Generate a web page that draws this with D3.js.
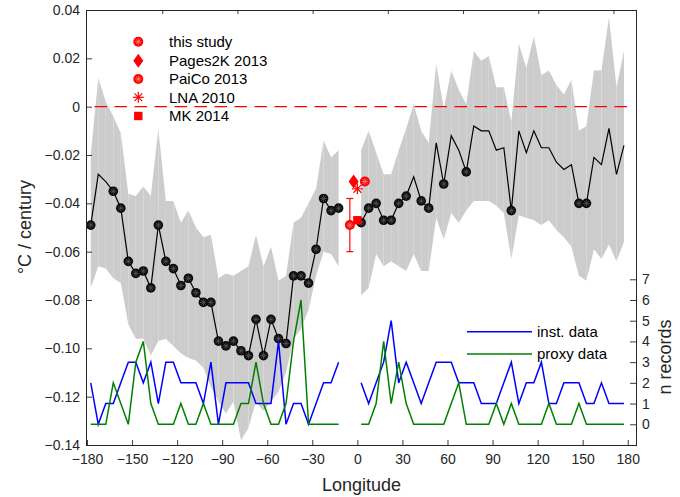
<!DOCTYPE html>
<html><head><meta charset="utf-8">
<script src="https://cdn.jsdelivr.net/npm/d3@7"></script>
<style>
html,body{margin:0;padding:0;background:#fff;}
svg{display:block;font-family:"Liberation Sans",Arial,Helvetica,sans-serif;}
</style></head><body>
<svg id="c" width="680" height="497"></svg>
<script>
// ---------- data ----------
const lonLeft = [-177.5,-172.5,-167.5,-162.5,-157.5,-152.5,-147.5,-142.5,-137.5,-132.5,-127.5,-122.5,-117.5,-112.5,-107.5,-102.5,-97.5,-92.5,-87.5,-82.5,-77.5,-72.5,-67.5,-62.5,-57.5,-52.5,-47.5,-42.5,-37.5,-32.5,-27.5,-22.5,-17.5,-12.5];
const trendLeft = [-0.049,-0.028,-0.031,-0.035,-0.042,-0.064,-0.069,-0.068,-0.075,-0.049,-0.064,-0.067,-0.074,-0.071,-0.077,-0.081,-0.081,-0.097,-0.099,-0.097,-0.101,-0.103,-0.088,-0.103,-0.088,-0.096,-0.098,-0.070,-0.070,-0.073,-0.059,-0.038,-0.043,-0.042];
const upperLeft = [-0.020,0.012,0.002,-0.004,-0.011,-0.036,-0.037,-0.033,-0.037,-0.009,-0.039,-0.039,-0.048,-0.043,-0.050,-0.054,-0.053,-0.071,-0.069,-0.070,-0.068,-0.066,-0.053,-0.066,-0.058,-0.072,-0.070,-0.048,-0.046,-0.040,-0.034,-0.014,-0.021,-0.018];
const lowerLeft = [-0.075,-0.066,-0.067,-0.071,-0.073,-0.090,-0.096,-0.096,-0.103,-0.097,-0.096,-0.099,-0.102,-0.104,-0.105,-0.108,-0.116,-0.122,-0.127,-0.122,-0.138,-0.133,-0.122,-0.126,-0.122,-0.118,-0.110,-0.096,-0.092,-0.084,-0.070,-0.060,-0.061,-0.066];
const sigLeft = [1,0,0,1,1,1,1,1,1,1,1,1,1,1,1,1,1,1,1,1,1,1,1,1,1,1,1,1,1,1,1,1,1,1];
const instLeft = [2,0,1,1,2,3,3,2,3,1,3,3,2,2,2,1,3,0,2,2,2,2,1,1,1,4,0,1,1,0,1,2,2,3];
const proxyLeft = [0,0,0,2,1,0,3,4,1,0,0,0,1,0,0,1,0,0,0,0,1,1,3,1,0,0,1,4,6,0,0,0,0,0];

const lonRight = [2.5,7.5,12.5,17.5,22.5,27.5,32.5,37.5,42.5,47.5,52.5,57.5,62.5,67.5,72.5,77.5,82.5,87.5,92.5,97.5,102.5,107.5,112.5,117.5,122.5,127.5,132.5,137.5,142.5,147.5,152.5,157.5,162.5,167.5,172.5,177.5];
const trendRight = [-0.048,-0.042,-0.040,-0.047,-0.047,-0.040,-0.037,-0.029,-0.039,-0.042,-0.015,-0.032,-0.012,-0.018,-0.027,-0.008,-0.010,-0.010,-0.018,-0.017,-0.043,-0.010,-0.019,-0.010,-0.017,-0.017,-0.023,-0.026,-0.024,-0.040,-0.040,-0.021,-0.024,-0.009,-0.028,-0.016];
const upperRight = [-0.018,-0.010,-0.019,-0.028,-0.028,-0.018,-0.009,0.001,-0.010,-0.015,0.018,-0.001,0.015,0.007,0.001,0.023,0.019,0.021,0.008,0.008,-0.006,0.026,0.016,0.029,0.013,0.015,0.009,0.005,0.011,-0.010,-0.008,0.015,0.015,0.037,0.008,0.023];
const lowerRight = [-0.078,-0.075,-0.061,-0.066,-0.064,-0.066,-0.068,-0.061,-0.068,-0.068,-0.046,-0.055,-0.044,-0.048,-0.043,-0.039,-0.039,-0.039,-0.041,-0.044,-0.063,-0.045,-0.046,-0.047,-0.049,-0.047,-0.051,-0.054,-0.058,-0.070,-0.072,-0.059,-0.063,-0.057,-0.064,-0.056];
const sigRight = [1,1,1,1,1,1,1,0,1,1,0,1,0,0,1,0,0,0,0,0,1,0,0,0,0,0,0,0,0,1,1,0,0,0,0,0];
const instRight = [2,1,2,3,5,2,3,2,1,2,3,3,3,2,2,2,1,1,1,2,3,1,2,2,3,1,1,2,2,2,1,1,2,1,1,1];
const proxyRight = [0,0,1,4,1,3,1,0,0,0,0,0,1,2,0,0,0,0,1,0,1,0,0,0,0,1,0,0,0,1,0,0,0,0,0,0];

const refNames = ["this study","Pages2K 2013","PaiCo 2013","LNA 2010","MK 2014"];
const refSymbols = ["studyCircle","diamond","circle","asterisk","square"];
const refLon = [-5, -2.5, 5, 0, 0];
const refVal = [-0.049, -0.031, -0.031, -0.034, -0.047];
const refErr = [0.011, 0, 0, 0, 0];

const xTicks = [-180,-150,-120,-90,-60,-30,0,30,60,90,120,150,180];
const yTicks = [-0.14,-0.12,-0.10,-0.08,-0.06,-0.04,-0.02,0,0.02,0.04];
const nTicks = [0,1,2,3,4,5,6,7];
const topTicks = [-150,-100,-50,0,50,100,150];
const countNames = ["inst. data","proxy data"];

// ---------- drawing ----------
const AX = "#262626";
const svg = d3.select("#c");
const x = d3.scaleLinear().domain([-180,185.5]).range([87,636]);
const y = d3.scaleLinear().domain([-0.14,0.04]).range([445,10]);
const yN = d3.scaleLinear().domain([-1,20]).range([445,10]);
const xTop = d3.scaleLinear().domain([-200,165]).range([87,636]);

const segs = [
  {lon:lonLeft, t:trendLeft, up:upperLeft, lo:lowerLeft, sig:sigLeft, inst:instLeft, proxy:proxyLeft},
  {lon:lonRight, t:trendRight, up:upperRight, lo:lowerRight, sig:sigRight, inst:instRight, proxy:proxyRight}
];

// band as quads (gives faint seams)
const gBand = svg.append("g");
segs.forEach(s=>{
  for(let i=0;i<s.lon.length-1;i++){
    const pts=[[x(s.lon[i]),y(s.up[i])],[x(s.lon[i+1]),y(s.up[i+1])],[x(s.lon[i+1]),y(s.lo[i+1])],[x(s.lon[i]),y(s.lo[i])]];
    gBand.append("path").attr("d","M"+pts.join("L")+"Z").attr("fill","#cccccc");
  }
});

// zero line
svg.append("line").attr("x1",x(-175)).attr("x2",x(180)).attr("y1",y(0)).attr("y2",y(0))
  .attr("stroke","#ff0000").attr("stroke-width",1.1).attr("stroke-dasharray","12.5,7.5");

// trend lines
const line = d3.line().x(d=>x(d[0])).y(d=>y(d[1]));
segs.forEach(s=>{
  svg.append("path").attr("d",line(s.lon.map((l,i)=>[l,s.t[i]]))).attr("fill","none")
    .attr("stroke","#000").attr("stroke-width",1.2);
});

function starPattern(g,cx,cy,r,col,w){
  for(let a=0;a<4;a++){
    const ang=a*Math.PI/4;
    g.append("line").attr("x1",cx-r*Math.cos(ang)).attr("y1",cy-r*Math.sin(ang))
      .attr("x2",cx+r*Math.cos(ang)).attr("y2",cy+r*Math.sin(ang))
      .attr("stroke",col).attr("stroke-width",w);
  }
}
const gM = svg.append("g");
segs.forEach(s=>{
  s.lon.forEach((l,i)=>{
    if(!s.sig[i]) return;
    const cx=x(l), cy=y(s.t[i]);
    gM.append("circle").attr("cx",cx).attr("cy",cy).attr("r",4.8).attr("fill","#0a0a0a");
    starPattern(gM,cx,cy,3.4,"#5a5a5a",0.7);
  });
});

// count lines
const lineN = d3.line().x(d=>x(d[0])).y(d=>yN(d[1]));
const cCols = ["#0000ff","#008000"];
segs.forEach(s=>{
  svg.append("path").attr("d",lineN(s.lon.map((l,i)=>[l,s.inst[i]]))).attr("fill","none").attr("stroke",cCols[0]).attr("stroke-width",1.5);
  svg.append("path").attr("d",lineN(s.lon.map((l,i)=>[l,s.proxy[i]]))).attr("fill","none").attr("stroke",cCols[1]).attr("stroke-width",1.5);
});

// reference markers
function drawSym(g,sym,cx,cy){
  const red="#ff0000";
  if(sym==="studyCircle"||sym==="circle"){
    g.append("circle").attr("cx",cx).attr("cy",cy).attr("r",5).attr("fill",red);
    starPattern(g,cx,cy,3.4,"#ff8c8c",0.7);
  } else if(sym==="diamond"){
    g.append("path").attr("d",`M${cx},${cy-7}L${cx+5},${cy}L${cx},${cy+7}L${cx-5},${cy}Z`).attr("fill",red);
  } else if(sym==="square"){
    g.append("rect").attr("x",cx-4.2).attr("y",cy-4.2).attr("width",8.4).attr("height",8.4).attr("fill",red);
  } else if(sym==="asterisk"){
    for(let a=0;a<4;a++){
      const ang=a*Math.PI/4+Math.PI/2;
      g.append("line").attr("x1",cx-5.5*Math.cos(ang)).attr("y1",cy-5.5*Math.sin(ang))
        .attr("x2",cx+5.5*Math.cos(ang)).attr("y2",cy+5.5*Math.sin(ang)).attr("stroke",red).attr("stroke-width",1.2);
    }
  }
}
const gR = svg.append("g");
refNames.forEach((n,i)=>{
  if(refErr[i]>0){
    const cx=x(refLon[i]);
    const y1=y(refVal[i]-refErr[i]), y2=y(refVal[i]+refErr[i]);
    gR.append("line").attr("x1",cx).attr("x2",cx).attr("y1",y1).attr("y2",y2).attr("stroke","#ff0000").attr("stroke-width",1.2);
    [y1,y2].forEach(yy=>gR.append("line").attr("x1",cx-3.5).attr("x2",cx+3.5).attr("y1",yy).attr("y2",yy).attr("stroke","#ff0000").attr("stroke-width",1.2));
  }
});
[1,2,3,4,0].forEach(i=>drawSym(gR,refSymbols[i],x(refLon[i]),y(refVal[i])));

// axes
const fmtY = d=>{const v=Math.round(d*100)/100; return v===0?"0":(v<0?"\u2212":"")+Math.abs(v).toFixed(2);};
const fmtX = d=>(d<0?"\u2212":"")+Math.abs(d);
function styleAxis(g,fs){
  g.select(".domain").remove();
  g.selectAll(".tick line").attr("stroke",AX).attr("stroke-width",0.9);
  g.selectAll(".tick text").attr("fill",AX).style("font-size",fs+"px").style("font-family",'"Liberation Sans",Arial,sans-serif');
}
const gx = svg.append("g").attr("transform","translate(0,445)")
  .call(d3.axisBottom(x).tickValues(xTicks).tickFormat(fmtX).tickSizeInner(-5).tickSizeOuter(0).tickPadding(9));
styleAxis(gx,14);
const gy = svg.append("g").attr("transform","translate(87,0)")
  .call(d3.axisLeft(y).tickValues(yTicks).tickFormat(fmtY).tickSizeInner(-5).tickSizeOuter(0).tickPadding(7));
styleAxis(gy,14);
const gn = svg.append("g").attr("transform","translate(636,0)")
  .call(d3.axisRight(yN).tickValues(nTicks).tickFormat(d3.format("d")).tickSizeInner(-6).tickSizeOuter(0).tickPadding(6));
styleAxis(gn,14);
const gt = svg.append("g").attr("transform","translate(0,10)")
  .call(d3.axisTop(xTop).tickValues(topTicks).tickFormat("").tickSizeInner(-4).tickSizeOuter(0));
styleAxis(gt,14);

// frame
const fr = svg.append("g").attr("stroke",AX).attr("stroke-width",1).attr("fill","none");
fr.append("line").attr("x1",87).attr("x2",636).attr("y1",445.5).attr("y2",445.5);
fr.append("line").attr("x1",87).attr("x2",636).attr("y1",10.5).attr("y2",10.5);
fr.append("line").attr("x1",86.5).attr("x2",86.5).attr("y1",10).attr("y2",446);
fr.append("line").attr("x1",636.5).attr("x2",636.5).attr("y1",10).attr("y2",446);

// axis labels
svg.append("text").attr("x",361.5).attr("y",491).attr("text-anchor","middle").attr("fill",AX)
  .style("font-size","18px").text("Longitude");
svg.append("text").attr("transform","translate(31,227) rotate(-90)").attr("text-anchor","middle").attr("fill",AX)
  .style("font-size","18px").text("\u00B0C / century");
svg.append("text").attr("transform","translate(671,357) rotate(-90)").attr("text-anchor","middle").attr("fill",AX)
  .style("font-size","18px").text("n records");

// legend 1
const legY = [41.7,60.8,79,97.3,116];
const gL = svg.append("g");
refNames.forEach((n,i)=>{
  drawSym(gL,refSymbols[i],138.3,legY[i]);
  gL.append("text").attr("x",169).attr("y",legY[i]+5.3).attr("fill","#000").style("font-size","15px").text(n);
});

// legend 2
const leg2Y = [331.7,354];
countNames.forEach((n,i)=>{
  svg.append("line").attr("x1",467).attr("x2",532).attr("y1",leg2Y[i]).attr("y2",leg2Y[i]).attr("stroke",cCols[i]).attr("stroke-width",1.5);
  svg.append("text").attr("x",537).attr("y",leg2Y[i]+5.3).attr("fill","#000").style("font-size","15px").text(n);
});
</script></body></html>
